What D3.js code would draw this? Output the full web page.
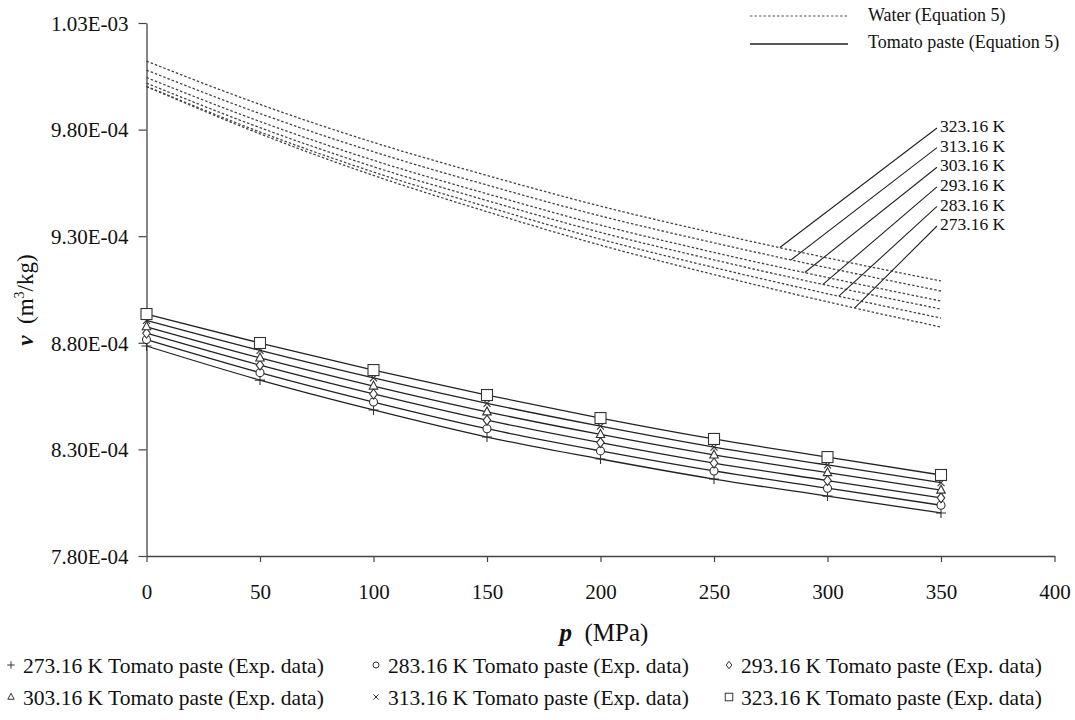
<!DOCTYPE html>
<html><head><meta charset="utf-8">
<script src="https://cdn.jsdelivr.net/npm/d3@7/dist/d3.min.js"></script>
<style>
html,body{margin:0;padding:0;background:#fff;}
svg{display:block;font-family:"Liberation Serif","Times New Roman",serif;}
</style></head>
<body><svg id="chart" width="1075" height="720"></svg>
<script>
// ---- data ----
const pressure = [0, 50, 100, 150, 200, 250, 300, 350];           // MPa
const temperatures = ["273.16", "283.16", "293.16", "303.16", "313.16", "323.16"];
// Water (Equation 5), m3/kg
const water273 = [10.002e-4, 9.780e-4, 9.585e-4, 9.415e-4, 9.258e-4, 9.120e-4, 8.992e-4, 8.874e-4];
const water283 = [10.003e-4, 9.789e-4, 9.601e-4, 9.438e-4, 9.286e-4, 9.153e-4, 9.030e-4, 8.916e-4];
const water293 = [10.018e-4, 9.809e-4, 9.626e-4, 9.467e-4, 9.318e-4, 9.189e-4, 9.069e-4, 8.958e-4];
const water303 = [10.044e-4, 9.838e-4, 9.656e-4, 9.499e-4, 9.352e-4, 9.224e-4, 9.106e-4, 8.996e-4];
const water313 = [10.079e-4, 9.875e-4, 9.696e-4, 9.540e-4, 9.395e-4, 9.269e-4, 9.152e-4, 9.043e-4];
const water323 = [10.121e-4, 9.918e-4, 9.740e-4, 9.585e-4, 9.441e-4, 9.315e-4, 9.198e-4, 9.090e-4];
// Tomato paste (Exp. data and Equation 5), m3/kg
const paste273 = [8.785e-4, 8.625e-4, 8.485e-4, 8.358e-4, 8.255e-4, 8.161e-4, 8.081e-4, 8.002e-4];
const paste283 = [8.815e-4, 8.660e-4, 8.522e-4, 8.397e-4, 8.293e-4, 8.199e-4, 8.118e-4, 8.038e-4];
const paste293 = [8.845e-4, 8.695e-4, 8.560e-4, 8.437e-4, 8.332e-4, 8.236e-4, 8.154e-4, 8.073e-4];
const paste303 = [8.875e-4, 8.729e-4, 8.597e-4, 8.476e-4, 8.370e-4, 8.274e-4, 8.191e-4, 8.109e-4];
const paste313 = [8.905e-4, 8.764e-4, 8.635e-4, 8.516e-4, 8.409e-4, 8.311e-4, 8.227e-4, 8.144e-4];
const paste323 = [8.935e-4, 8.799e-4, 8.672e-4, 8.555e-4, 8.447e-4, 8.349e-4, 8.264e-4, 8.180e-4];
// pressure where each temperature label's leader touches its water curve
const leaderP = [312, 305, 298, 290, 284, 279];
const yTickValues = [7.8e-4, 8.3e-4, 8.8e-4, 9.3e-4, 9.8e-4, 1.03e-3];
const yTickLabels = ["7.80E-04", "8.30E-04", "8.80E-04", "9.30E-04", "9.80E-04", "1.03E-03"];
const xTickValues = [0, 50, 100, 150, 200, 250, 300, 350, 400];
const markerShapes = ["plus", "circle", "diamond", "triangle", "cross", "square"];

const waterSeries = [water273, water283, water293, water303, water313, water323];
const pasteSeries = [paste273, paste283, paste293, paste303, paste313, paste323];

// ---- layout ----
const FONT = "Liberation Serif, Times New Roman, serif";
const svg = d3.select("#chart");
const x = d3.scaleLinear().domain([0, 400]).range([146.5, 1054.5]);
const y = d3.scaleLinear().domain([7.8e-4, 1.03e-3]).range([556, 23]);
const ink = "#222";

// axes
const gx = svg.append("g").attr("transform", `translate(0,${y(7.8e-4)})`)
  .call(d3.axisBottom(x).tickValues(xTickValues).tickSize(6).tickSizeOuter(0).tickPadding(22));
const gy = svg.append("g").attr("transform", `translate(${x(0)},0)`)
  .call(d3.axisLeft(y).tickValues(yTickValues).tickFormat((d, i) => yTickLabels[i]).tickSize(8).tickSizeOuter(0).tickPadding(10));
[gx, gy].forEach(g => {
  g.attr("font-family", FONT);
  g.select(".domain").attr("stroke", "#444").attr("stroke-width", 1.3);
  g.selectAll(".tick line").attr("stroke", "#444").attr("stroke-width", 1.2);
  g.selectAll(".tick text").attr("fill", "#111").attr("font-size", 21).attr("font-family", FONT);
});
gy.selectAll(".tick text").attr("dy", "0.35em");

// axis titles
const xt = svg.append("text").attr("x", 604).attr("y", 641).attr("text-anchor", "middle")
  .attr("font-size", 25).attr("fill", "#111").attr("font-family", FONT);
xt.append("tspan").attr("font-style", "italic").attr("font-weight", "bold").text("p");
xt.append("tspan").text("\u2002(MPa)");
const yt = svg.append("text").attr("transform", "translate(33,300) rotate(-90)")
  .attr("text-anchor", "middle").attr("font-size", 23).attr("fill", "#111").attr("font-family", FONT);
yt.append("tspan").attr("font-style", "italic").attr("font-weight", "bold").text("v");
yt.append("tspan").text("\u2002(m");
yt.append("tspan").attr("font-size", 14).attr("dy", -9).text("3");
yt.append("tspan").attr("dy", 9).text("/kg)");

const line = d3.line().x((d, i) => x(pressure[i])).y(d => y(d)).curve(d3.curveMonotoneX);

// water curves (dotted)
svg.append("g").selectAll("path").data(waterSeries).join("path")
  .attr("d", line).attr("fill", "none").attr("stroke", "#444")
  .attr("stroke-width", 1.3).attr("stroke-dasharray", "2.5,2");

// tomato curves (solid)
svg.append("g").selectAll("path").data(pasteSeries).join("path")
  .attr("d", line).attr("fill", "none").attr("stroke", ink).attr("stroke-width", 1.3);

// markers
function marker(g, shape, s) {
  const h = s / 2;
  let el;
  if (shape === "plus") el = g.append("path").attr("d", `M${-h},0H${h}M0,${-h}V${h}`).attr("fill", "none");
  else if (shape === "cross") el = g.append("path").attr("d", `M${-h*0.7},${-h*0.7}L${h*0.7},${h*0.7}M${-h*0.7},${h*0.7}L${h*0.7},${-h*0.7}`).attr("fill", "none");
  else if (shape === "circle") el = g.append("circle").attr("r", h * 0.8).attr("fill", "#fff");
  else if (shape === "diamond") el = g.append("path").attr("d", `M0,${-h}L${h*0.75},0L0,${h}L${-h*0.75},0Z`).attr("fill", "#fff");
  else if (shape === "triangle") el = g.append("path").attr("d", `M0,${-h}L${h*0.85},${h*0.6}L${-h*0.85},${h*0.6}Z`).attr("fill", "#fff");
  else el = g.append("rect").attr("x", -h).attr("y", -h).attr("width", s).attr("height", s).attr("fill", "#fff");
  el.attr("stroke", "#333").attr("stroke-width", 1.1);
  return el;
}
pasteSeries.forEach((series, si) => {
  series.forEach((v, i) => {
    const g = svg.append("g").attr("transform", `translate(${x(pressure[i])},${y(v)})`);
    marker(g, markerShapes[si], si === 5 ? 11 : 10);
  });
});

// temperature labels with leaders
function waterAt(series, p) {
  const i = Math.min(pressure.length - 2, Math.floor(p / 50));
  const t = (p - pressure[i]) / (pressure[i + 1] - pressure[i]);
  return series[i] + t * (series[i + 1] - series[i]);
}
const labelTop = 126, labelStep = 19.6;
temperatures.forEach((t, i) => {
  const ly = labelTop + (5 - i) * labelStep;
  const px = x(leaderP[i]), py = y(waterAt(waterSeries[i], leaderP[i]));
  svg.append("line").attr("x1", 937).attr("y1", ly + 2).attr("x2", px).attr("y2", py)
    .attr("stroke", ink).attr("stroke-width", 1.1);
  svg.append("text").attr("x", 940).attr("y", ly).attr("dy", "0.35em")
    .attr("font-size", 17.5).attr("fill", "#111").attr("font-family", FONT).text(t + " K");
});

// top-right legend
svg.append("line").attr("x1", 750).attr("x2", 848).attr("y1", 16).attr("y2", 16)
  .attr("stroke", "#555").attr("stroke-width", 1.1).attr("stroke-dasharray", "2.5,2");
svg.append("text").attr("x", 868).attr("y", 15).attr("dy", "0.35em").attr("font-size", 18)
  .attr("fill", "#111").attr("font-family", FONT).text("Water (Equation 5)");
svg.append("line").attr("x1", 750).attr("x2", 848).attr("y1", 44).attr("y2", 44)
  .attr("stroke", ink).attr("stroke-width", 1.3);
svg.append("text").attr("x", 868).attr("y", 42).attr("dy", "0.35em").attr("font-size", 18)
  .attr("fill", "#111").attr("font-family", FONT).text("Tomato paste (Equation 5)");

// bottom legend
const colX = [11, 376, 729], rowY = [665, 697];
temperatures.forEach((t, i) => {
  const cx = colX[i % 3], cy = rowY[Math.floor(i / 3)];
  const g = svg.append("g").attr("transform", `translate(${cx},${cy})`);
  marker(g, markerShapes[i], 7.5).attr("stroke-width", 1);
  svg.append("text").attr("x", cx + 12).attr("y", cy).attr("dy", "0.35em")
    .attr("font-size", 21.5).attr("fill", "#111").attr("font-family", FONT)
    .text(`${t} K Tomato paste (Exp. data)`);
});
</script></body></html>
